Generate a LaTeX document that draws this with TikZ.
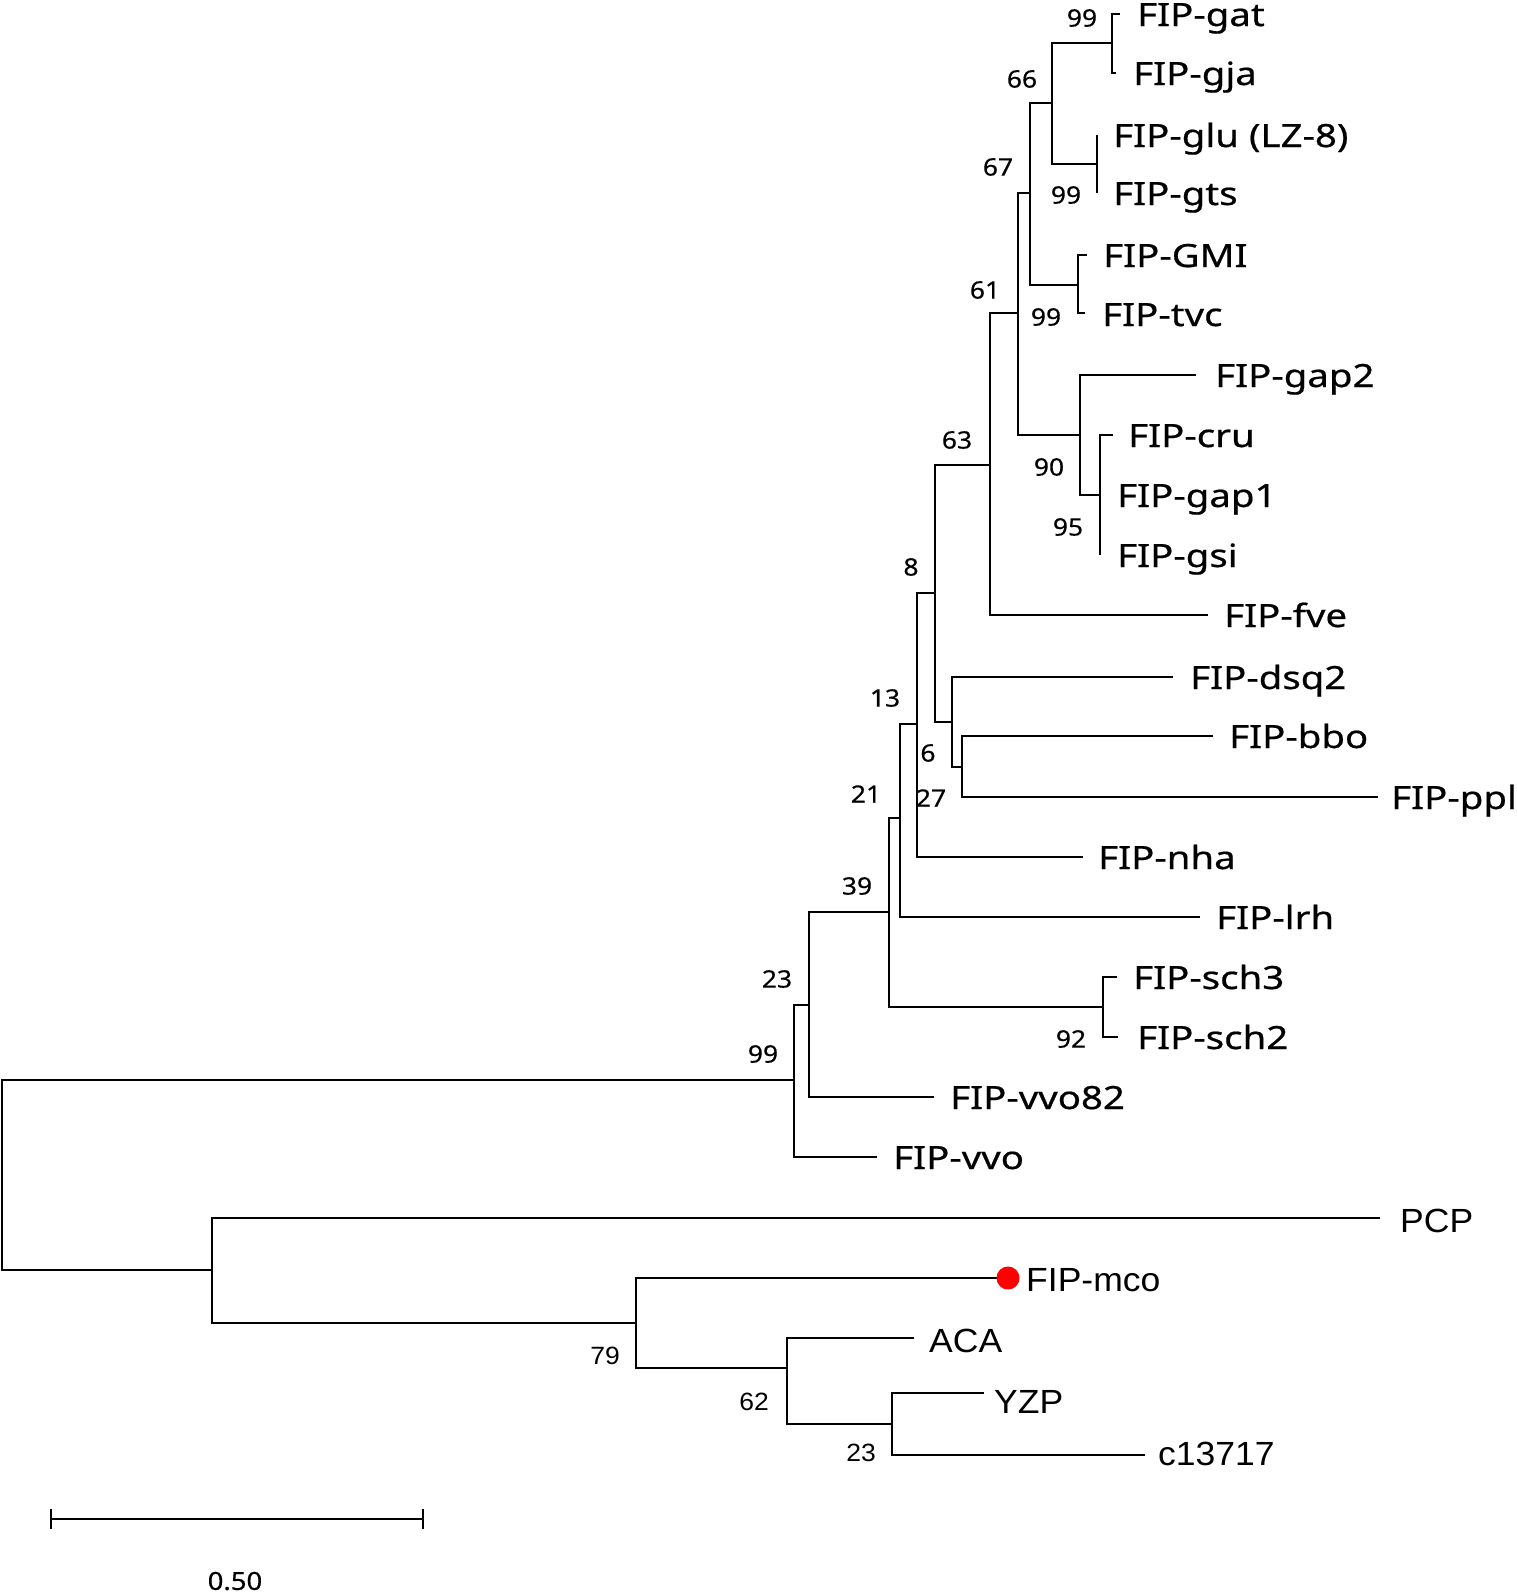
\documentclass[tikz,border=0pt]{standalone}
\usepackage{fontspec}
\setmainfont{Noto Sans}
\newfontfamily\labfont[FakeStretch=1.2,FakeBold=0.6]{Noto Sans}
\newfontfamily\numfont[FakeStretch=1.1,FakeBold=0.5]{Noto Sans}
\newfontfamily\arialfont[FakeStretch=1.06]{Liberation Sans}
\begin{document}
\begin{tikzpicture}[x=1pt,y=-1pt,
  br/.style={line width=1.8pt, line join=miter},
  leaf/.style={anchor=base west, inner sep=0pt, font=\labfont\fontsize{32}{36}\selectfont},
  leafb/.style={anchor=base west, inner sep=0pt, font=\arialfont\fontsize{33.5}{38}\selectfont},
  boot/.style={anchor=center, inner sep=0pt, font=\numfont\fontsize{24}{28}\selectfont},
  bootb/.style={anchor=center, inner sep=0pt, font=\arialfont\fontsize{25}{30}\selectfont}]
\useasboundingbox (0,0) rectangle (1516,1596);
% ---- upper clade ----
\draw[br] (1120,14) -- (1112,14) -- (1112,73) -- (1116,73);       % gat/gja
\draw[br] (1097,135) -- (1097,193);                               % glu/gts
\draw[br] (1112,43) -- (1052,43) -- (1052,164) -- (1097,164);     % 66
\draw[br] (1087,255) -- (1078,255) -- (1078,313) -- (1085,313);   % GMI/tvc
\draw[br] (1052,103) -- (1030,103) -- (1030,285) -- (1078,285);   % 67
\draw[br] (1113,435) -- (1100,435) -- (1100,555);                 % cru/gap1/gsi
\draw[br] (1196,375) -- (1080,375) -- (1080,495) -- (1100,495);   % 90
\draw[br] (1030,193) -- (1018,193) -- (1018,435) -- (1080,435);   % 61
\draw[br] (1018,313) -- (990,313) -- (990,615) -- (1208,615);     % 63
\draw[br] (990,465) -- (935,465) -- (935,722) -- (952,722);       % 8
\draw[br] (1173,677) -- (952,677) -- (952,767) -- (962,767);      % dsq2
\draw[br] (1213,736) -- (962,736) -- (962,797) -- (1378,797);     % bbo/ppl
\draw[br] (935,593) -- (917,593) -- (917,857) -- (1083,857);      % 13
\draw[br] (917,724) -- (900,724) -- (900,917) -- (1200,917);      % 21
\draw[br] (900,818) -- (889,818) -- (889,1007) -- (1103,1007);    % 39
\draw[br] (1117,977) -- (1103,977) -- (1103,1037) -- (1118,1037); % sch
\draw[br] (889,912) -- (809,912) -- (809,1097) -- (934,1097);     % 23
\draw[br] (809,1005) -- (794,1005) -- (794,1157) -- (877,1157);   % 99
% ---- root and lower clade ----
\draw[br] (794,1080) -- (2,1080) -- (2,1270) -- (212,1270);
\draw[br] (1380,1218) -- (212,1218) -- (212,1323) -- (636,1323);
\draw[br] (1008,1278) -- (636,1278) -- (636,1368) -- (787,1368);
\draw[br] (914,1338) -- (787,1338) -- (787,1424) -- (892,1424);
\draw[br] (984,1393) -- (892,1393) -- (892,1455) -- (1145,1455);
\fill[red] (1008,1278) circle (11.5);
% ---- leaf labels ----
\node[leaf] (gat) at (1137,26) {FIP-gat};
\node[leaf] (gja) at (1133,85) {FIP-gja};
\node[leaf] (glu) at (1113,147) {FIP-glu (LZ-8)};
\node[leaf] (gts) at (1113,205) {FIP-gts};
\node[leaf] (gmi) at (1103,267) {FIP-GMI};
\node[leaf] (tvc) at (1102,326) {FIP-tvc};
\node[leaf] (gap2) at (1215,387) {FIP-gap2};
\node[leaf] (cru) at (1128,447) {FIP-cru};
\node[leaf] (gap1) at (1117,507) {FIP-gap1};
\node[leaf] (gsi) at (1117,567) {FIP-gsi};
\node[leaf] (fve) at (1224,627) {FIP-fve};
\node[leaf] (dsq2) at (1190,689) {FIP-dsq2};
\node[leaf] (bbo) at (1229,748) {FIP-bbo};
\node[leaf] (ppl) at (1391,809) {FIP-ppl};
\node[leaf] (nha) at (1098,869) {FIP-nha};
\node[leaf] (lrh) at (1216,929) {FIP-lrh};
\node[leaf] (sch3) at (1133,989) {FIP-sch3};
\node[leaf] (sch2) at (1137,1049) {FIP-sch2};
\node[leaf] (vvo82) at (950,1109) {FIP-vvo82};
\node[leaf] (vvo) at (893,1169) {FIP-vvo};
\node[leafb] (pcp) at (1400,1232) {PCP};
\node[leafb] (mco) at (1026,1291) {FIP-mco};
\node[leafb] (aca) at (929,1352) {ACA};
\node[leafb] (yzp) at (994,1413) {YZP};
\node[leafb] (c13717) at (1158,1465) {c13717};
% ---- bootstrap values ----
\node[boot] (b1) at (1082,18) {99};
\node[boot] (b2) at (1022,79) {66};
\node[boot] (b3) at (1066,195) {99};
\node[boot] (b4) at (998,167) {67};
\node[boot] (b5) at (985,290) {61};
\node[boot] (b6) at (1046,317) {99};
\node[boot] (b7) at (957,440) {63};
\node[boot] (b8) at (1049,467) {90};
\node[boot] (b9) at (1068,527) {95};
\node[boot] (b10) at (911,567) {8};
\node[boot] (b11) at (885,698) {13};
\node[boot] (b12) at (928,753) {6};
\node[boot] (b13) at (931,798) {27};
\node[boot] (b14) at (866,794) {21};
\node[boot] (b15) at (857,886) {39};
\node[boot] (b16) at (777,979) {23};
\node[boot] (b17) at (1071,1039) {92};
\node[boot] (b18) at (763,1054) {99};
\node[bootb] (b19) at (605,1356) {79};
\node[bootb] (b20) at (754,1402) {62};
\node[bootb] (b21) at (861,1453) {23};
% ---- scale bar ----
\coordinate (sbl) at (51,1519);
\coordinate (sbr) at (423,1519);
\draw[br] (sbl) -- (sbr);
\draw[br] (51,1509) -- (51,1529);
\draw[br] (423,1509) -- (423,1529);
\node[boot, font=\numfont\fontsize{25}{30}\selectfont] (scale) at (235,1581) {0.50};
\end{tikzpicture}
\end{document}
